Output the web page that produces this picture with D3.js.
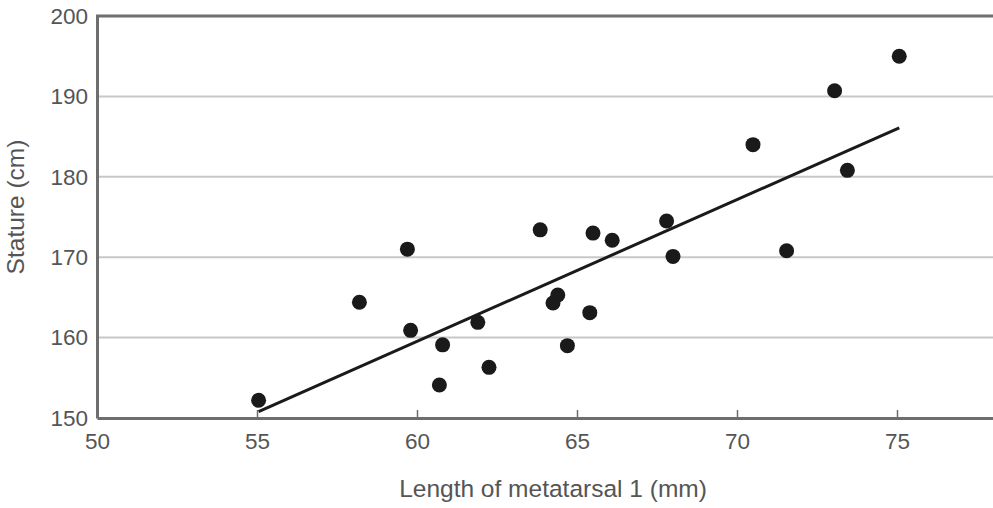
<!DOCTYPE html>
<html>
<head>
<meta charset="utf-8">
<script src="https://cdn.jsdelivr.net/npm/d3@7"></script>
<style>
    body { margin: 0; background: #fff; }
    svg { display: block; font-family: "Liberation Sans", Arial, Helvetica, sans-serif; }
</style>
</head>
<body>
<div id="chart"></div>
<script>
// metatarsal length (mm) vs stature (cm)
const metatarsal = [55.05, 58.2, 59.7, 59.8, 60.8, 60.7, 61.9, 62.25, 63.85, 64.25, 64.4,
    64.7, 65.4, 65.5, 66.1, 67.8, 68.0, 70.5, 71.55, 73.05, 73.45, 75.07];
const stature = [152.2, 164.4, 171.0, 160.9, 159.1, 154.1, 161.9, 156.3, 173.4, 164.3, 165.3,
    159.0, 163.1, 173.0, 172.1, 174.5, 170.1, 184.0, 170.8, 190.7, 180.8, 195.0];
const fitX = [55.05, 75.07];
const fitY = [150.8, 186.1];
const xTicks = [50, 55, 60, 65, 70, 75];
const yTicks = [150, 160, 170, 180, 190, 200];

const width = 993, height = 508;
const margin = { top: 16, right: 0, bottom: 90, left: 97 };

const svg = d3.select("#chart")
    .append("svg")
    .attr("width", width)
    .attr("height", height);

const x = d3.scaleLinear()
    .domain([50, 78])
    .range([margin.left, width - margin.right]);

const y = d3.scaleLinear()
    .domain([150, 200])
    .range([height - margin.bottom, margin.top]);

// horizontal grid
svg.append("g")
    .selectAll("line")
    .data(yTicks.filter(d => d > 150 && d < 200))
    .join("line")
    .attr("x1", x(50))
    .attr("x2", width)
    .attr("y1", d => y(d))
    .attr("y2", d => y(d))
    .attr("stroke", "#c8c8c8")
    .attr("stroke-width", 2);

// top border
svg.append("line")
    .attr("x1", x(50) - 1)
    .attr("x2", width)
    .attr("y1", y(200))
    .attr("y2", y(200))
    .attr("stroke", "#6e6e6e")
    .attr("stroke-width", 3);

// x axis, ticks pointing inward
const xAxis = svg.append("g")
    .attr("transform", `translate(0, ${y(150)})`)
    .call(d3.axisBottom(x).tickValues(xTicks).tickSizeInner(-8).tickSizeOuter(0).tickPadding(15));
xAxis.select(".domain").attr("stroke", "#6e6e6e").attr("stroke-width", 3);
xAxis.selectAll(".tick line").attr("stroke", "#6e6e6e").attr("stroke-width", 1.5);
xAxis.selectAll(".tick text")
    .attr("fill", "#555")
    .attr("font-size", 22.5);

// y axis
const yAxis = svg.append("g")
    .attr("transform", `translate(${x(50)}, 0)`)
    .call(d3.axisLeft(y).tickValues(yTicks).tickSize(0).tickPadding(9));
yAxis.select(".domain").attr("stroke", "#6e6e6e").attr("stroke-width", 3);
yAxis.selectAll(".tick text")
    .attr("fill", "#555")
    .attr("font-size", 22.5);

// regression line
svg.append("line")
    .attr("x1", x(fitX[0]))
    .attr("y1", y(fitY[0]))
    .attr("x2", x(fitX[1]))
    .attr("y2", y(fitY[1]))
    .attr("stroke", "#1a1a1a")
    .attr("stroke-width", 3);

// points
svg.append("g")
    .selectAll("circle")
    .data(metatarsal.map((m, i) => [m, stature[i]]))
    .join("circle")
    .attr("cx", d => x(d[0]))
    .attr("cy", d => y(d[1]))
    .attr("r", 7.5)
    .attr("fill", "#1a1a1a");

// axis titles
svg.append("text")
    .attr("x", 553)
    .attr("y", 497)
    .attr("text-anchor", "middle")
    .attr("fill", "#555")
    .attr("font-size", 24.5)
    .text("Length of metatarsal 1 (mm)");

svg.append("text")
    .attr("transform", "translate(24, 207) rotate(-90)")
    .attr("text-anchor", "middle")
    .attr("fill", "#555")
    .attr("font-size", 24.5)
    .text("Stature (cm)");
</script>
</body>
</html>
